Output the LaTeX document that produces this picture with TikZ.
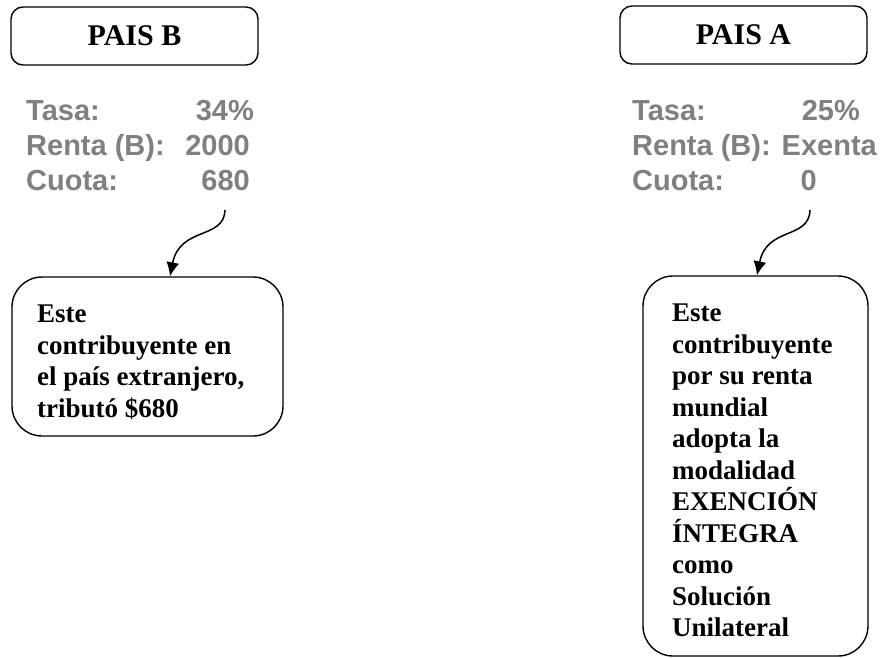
\documentclass[tikz,border=0pt]{standalone}
\usepackage{fontspec}
\setmainfont{Liberation Serif}
\setsansfont{Liberation Sans}
\usetikzlibrary{arrows.meta}
\definecolor{cifra}{RGB}{128,128,128}

\begin{document}
\begin{tikzpicture}[x=1pt,y=-1pt]
\tikzstyle{every node}+=[inner sep=0pt]
\tikzstyle{pais}=[draw=black, line width=1.4pt, rounded corners=12pt, minimum width=247pt, minimum height=58pt, font=\fontsize{30}{36}\selectfont\bfseries]
\tikzstyle{nota}=[draw=black, line width=1.4pt, rounded corners=30pt]
\tikzstyle{dato}=[text=cifra, font=\fontsize{29}{35}\selectfont\sffamily\bfseries]
\tikzstyle{texto}=[align=left, anchor=north west, font=\fontsize{27}{31.5}\selectfont\bfseries]
\tikzstyle{flecha}=[line width=1.5pt, -{Latex[length=14pt,width=13pt]}]
\useasboundingbox (0,0) rectangle (881,657);
\node [pais] (paisB) at (134.5,36) {PAIS B};
\node [pais] (paisA) at (743.5,35) {PAIS A};
\node [dato, anchor=base west] (tasaB) at (26,120) {Tasa:};
\node [dato, anchor=base east] (tasaBv) at (254,120) {34\%};
\node [dato, anchor=base west] (rentaB) at (26,155) {Renta (B):};
\node [dato, anchor=base east] (rentaBv) at (250,155) {2000};
\node [dato, anchor=base west] (cuotaB) at (26,190) {Cuota:};
\node [dato, anchor=base east] (cuotaBv) at (250,190) {680};
\node [dato, anchor=base west] (tasaA) at (632,120) {Tasa:};
\node [dato, anchor=base east] (tasaAv) at (860,120) {25\%};
\node [dato, anchor=base west] (rentaA) at (632,155) {Renta (B):};
\node [dato, anchor=base east] (rentaAv) at (877,155) {Exenta};
\node [dato, anchor=base west] (cuotaA) at (632,190) {Cuota:};
\node [dato, anchor=base east] (cuotaAv) at (817,190) {0};
\node [nota, minimum width=271pt, minimum height=159pt] (notaB) at (147.5,356.5) {};
\node [texto] (textoB) at (37,305) {Este\\contribuyente en\\el país extranjero,\\tributó \$680};
\node [nota, minimum width=225pt, minimum height=380pt] (notaA) at (755.5,466) {};
\node [texto] (textoA) at (672,304) {Este\\contribuyente\\por su renta\\mundial\\adopta la\\modalidad\\EXENCIÓN\\ÍNTEGRA\\como\\Solución\\Unilateral};
\coordinate (iniB) at (225,210);
\coordinate (finB) at (170,0);
\coordinate (iniA) at (810,210);
\coordinate (finA) at (757,0);
\draw [flecha] (iniB) .. controls (224,240) and (180,226) .. (notaB.north -| finB);
\draw [flecha] (iniA) .. controls (809,240) and (767,226) .. (notaA.north -| finA);
\end{tikzpicture}
\end{document}
